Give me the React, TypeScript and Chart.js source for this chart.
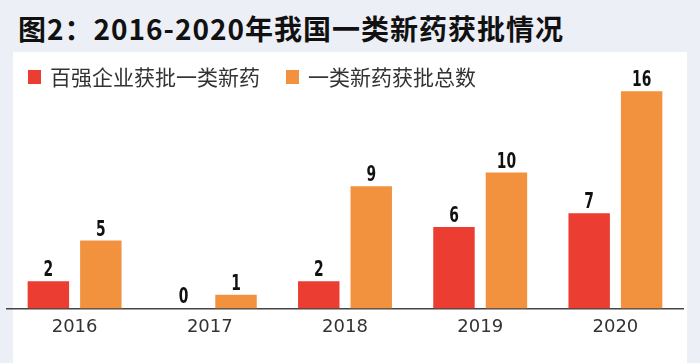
import React, { useEffect, useRef } from "react";
import { Chart, registerables } from "chart.js";

Chart.register(...registerables);

const TITLE = "图2：2016-2020年我国一类新药获批情况";
const YEARS = ["2016", "2017", "2018", "2019", "2020"];
const SERIES_NAMES = ["百强企业获批一类新药", "一类新药获批总数"];
const TOP100_APPROVALS = [2, 0, 2, 6, 7];
const TOTAL_APPROVALS = [5, 1, 9, 10, 16];
const COLORS = ["#eb3d32", "#f2923e"];
const Y_MAX = 18;

const labelPlugin = {
  id: "valueLabels",
  afterDatasetsDraw(chart: any) {
    const ctx = chart.ctx;
    chart.data.datasets.forEach((ds: any, i: number) => {
      const meta = chart.getDatasetMeta(i);
      meta.data.forEach((bar: any, j: number) => {
        ctx.save();
        ctx.font = 'bold 21px "DejaVu Sans", sans-serif';
        ctx.fillStyle = "#111";
        ctx.textAlign = "center";
        ctx.textBaseline = "alphabetic";
        ctx.translate(bar.x, bar.y - 5);
        ctx.scale(0.66, 1);
        ctx.fillText(String(ds.data[j]), 0, 0);
        ctx.restore();
      });
    });
  },
};

export default function App() {
  const ref = useRef<HTMLCanvasElement>(null);

  useEffect(() => {
    document.body.style.margin = "0";
    const chart = new Chart(ref.current!, {
      type: "bar",
      data: {
        labels: YEARS,
        datasets: [
          { label: SERIES_NAMES[0], data: TOP100_APPROVALS, backgroundColor: COLORS[0] },
          { label: SERIES_NAMES[1], data: TOTAL_APPROVALS, backgroundColor: COLORS[1] },
        ],
      },
      options: {
        animation: false,
        responsive: false,
        maintainAspectRatio: false,
        categoryPercentage: 0.776,
        barPercentage: 0.79,
        layout: { padding: { top: 12, left: 7, right: 17, bottom: 17 } },
        plugins: {
          legend: { display: false },
          title: { display: false },
          tooltip: { enabled: false },
        },
        scales: {
          x: {
            grid: { display: false, drawTicks: false },
            border: { display: true, color: "#444", width: 1.5 },
            ticks: {
              padding: 8,
              color: "#333",
              font: { family: '"DejaVu Sans", sans-serif', size: 18 },
            },
          },
          y: {
            display: false,
            min: 0,
            max: Y_MAX,
          },
        },
      },
      plugins: [labelPlugin],
    });
    return () => chart.destroy();
  }, []);

  return (
    <div
      style={{
        position: "relative",
        width: 700,
        height: 363,
        background: "#edeff6",
        overflow: "hidden",
        fontFamily: '"Noto Sans CJK SC", "Noto Sans", sans-serif',
      }}
    >
      <div
        style={{
          position: "absolute",
          left: 18,
          top: 14,
          fontSize: 28,
          lineHeight: "28px",
          fontWeight: 700,
          letterSpacing: 1,
          color: "#111",
          whiteSpace: "nowrap",
        }}
      >
        {TITLE}
      </div>
      <div
        style={{
          position: "absolute",
          left: 13,
          top: 52,
          width: 674,
          height: 311,
          background: "#ffffff",
        }}
      />
      <canvas
        ref={ref}
        width={700}
        height={311}
        style={{ position: "absolute", left: 0, top: 52, width: 700, height: 311 }}
      />
      <div
        style={{
          position: "absolute",
          left: 28,
          top: 66,
          display: "flex",
          alignItems: "center",
          fontSize: 21,
          lineHeight: "21px",
          color: "#333",
          whiteSpace: "nowrap",
        }}
      >
        {SERIES_NAMES.map((name, i) => (
          <div key={name} style={{ display: "flex", alignItems: "center", marginRight: 26 }}>
            <span
              style={{
                display: "inline-block",
                width: 13,
                height: 14,
                background: COLORS[i],
                marginRight: 9,
              }}
            />
            <span>{name}</span>
          </div>
        ))}
      </div>
    </div>
  );
}
